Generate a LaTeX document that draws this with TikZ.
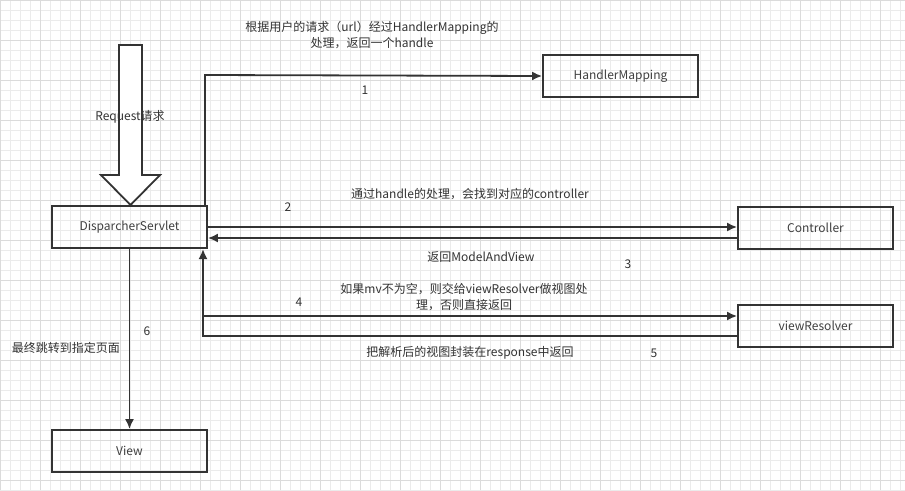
\documentclass[tikz,border=0pt]{standalone}
\usepackage{fontspec}
\setmainfont{Noto Sans CJK SC}
\usetikzlibrary{arrows.meta}
\begin{document}
\begin{tikzpicture}[x=1pt,y=-1pt,
  box/.style={draw=black!80,line width=1.8pt,minimum width=155pt,minimum height=42pt,inner sep=0pt,font=\fontsize{12}{14}\selectfont,text=black!75},
  lab/.style={font=\fontsize{12}{16}\selectfont,text=black!80,align=center,inner sep=0pt},
  conn/.style={draw=black!80,line width=1.8pt,-{Latex[length=10pt,width=9pt]}}]
\useasboundingbox (0,0) rectangle (905,490);
\fill[white] (0,0) rectangle (905,490);
\draw[black!8,line width=0.5pt] (0,0) grid[step=10pt] (905,490);
\draw[black!14,line width=0.5pt] (0,0) grid[step=40pt] (905,490);
\node[box] (ds) at (129.5,227) {DisparcherServlet};
\node[box] (hm) at (620.5,76) {HandlerMapping};
\node[box] (ct) at (815.5,228) {Controller};
\node[box] (vr) at (815.5,326) {viewResolver};
\node[box] (vw) at (129.5,451) {View};
% big hollow arrow
\draw[black!80,line width=1.8pt,fill=white] (119,45) -- (142,45) -- (142,175) -- (160,175) -- (130.5,205) -- (101,175) -- (119,175) -- cycle;
\node[lab] (req) at (130,117) {Request请求};
\coordinate (c1) at (205,75);
\draw[conn] (205,206) -- (c1) -- (hm.west);
\draw[conn] (ds.east|-0,227) -- (ct.west|-0,227);
\draw[conn] (ct.west|-0,238) -- (ds.east|-0,238);
\coordinate (c4) at (203,316);
\coordinate (c5) at (203,336);
\draw[conn] (c4) -- (vr.west|-c4);
\draw[conn] (vr.west|-c5) -- (c5) -- (203,249);
\draw[conn] (ds.south) -- (vw.north);
\node[lab] (t1) at (372,35) {根据用户的请求（url）经过HandlerMapping的\\处理，返回一个handle};
\node[lab] (n1) at (365,90) {1};
\node[lab] (t2) at (470,194) {通过handle的处理，会找到对应的controller};
\node[lab] (n2) at (288,207) {2};
\node[lab] (t3) at (481,257) {返回ModelAndView};
\node[lab] (n3) at (628,264) {3};
\node[lab] (t4) at (464,297) {如果mv不为空，则交给viewResolver做视图处\\理，否则直接返回};
\node[lab] (n4) at (299,302) {4};
\node[lab] (t5) at (470,353) {把解析后的视图封装在response中返回};
\node[lab] (n5) at (654,353) {5};
\node[lab] (t6) at (66,348) {最终跳转到指定页面};
\node[lab] (n6) at (147,331) {6};
\end{tikzpicture}
\end{document}
